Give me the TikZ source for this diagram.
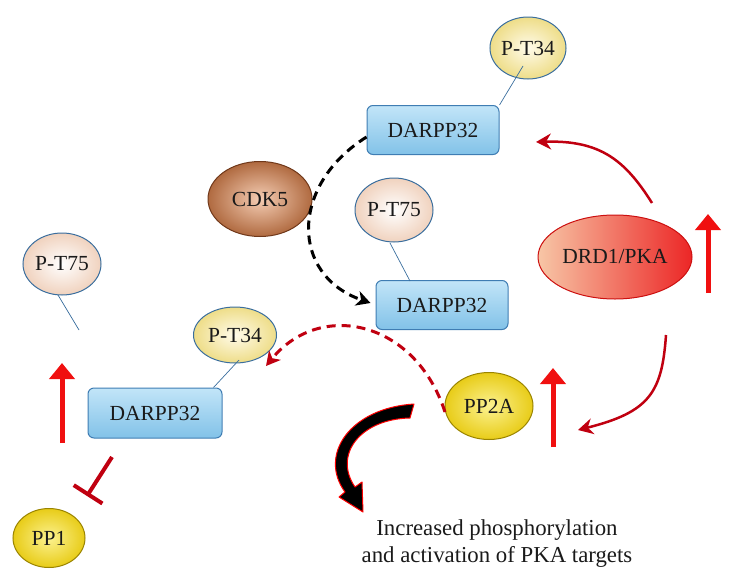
\documentclass[tikz,border=0pt]{standalone}
\usepackage{fontspec}
\setmainfont{Liberation Serif}
\usetikzlibrary{shapes.geometric,arrows.meta,calc}
\definecolor{boxtop}{HTML}{C2E5F8}
\definecolor{boxbot}{HTML}{82C2E8}
\definecolor{boxline}{HTML}{3F7DB3}
\definecolor{pline}{HTML}{3A6E9E}
\definecolor{ylin}{HTML}{FFFBEA}
\definecolor{yout}{HTML}{EEDD88}
\definecolor{pin}{HTML}{FFFFFF}
\definecolor{pout}{HTML}{F0D2BE}
\definecolor{cdkin}{HTML}{F4CDB4}
\definecolor{cdkout}{HTML}{B06A40}
\definecolor{cdkline}{HTML}{70381A}
\definecolor{ppin}{HTML}{FCF290}
\definecolor{ppout}{HTML}{E8CC18}
\definecolor{ppline}{HTML}{9A8400}
\definecolor{drdl}{HTML}{F7C6A6}
\definecolor{drdr}{HTML}{EC2626}
\definecolor{drdline}{HTML}{CC1010}
\definecolor{darkred}{HTML}{C00010}
\definecolor{brightred}{HTML}{F01010}
\definecolor{txt}{HTML}{1A1A1A}
\tikzset{
  lbl/.style={font=\fontsize{21.5}{25}\selectfont, text=txt},
  ovl/.style={ellipse, inner sep=0pt, lbl, line width=1pt},
  ptyel/.style={ovl, draw=pline, inner color=ylin, outer color=yout},
  ptpch/.style={ovl, draw=pline, inner color=pin, outer color=pout},
  ppyel/.style={ovl, draw=ppline, inner color=ppin, outer color=ppout},
  darpp/.style={rectangle, rounded corners=6pt, draw=boxline, line width=1pt, top color=boxtop, bottom color=boxbot, minimum width=132pt, minimum height=49pt, lbl},
  link/.style={draw=pline, line width=0.7pt},
  upred/.style={draw=brightred, line width=5pt, -{Triangle[width=25pt,length=16pt]}},
  curvred/.style={draw=darkred, line width=2.5pt, -{Stealth[length=15pt,width=16pt,inset=5pt]}},
  dashblk/.style={draw=black, line width=3pt, dash pattern=on 9pt off 6pt, -{Stealth[length=14pt,width=15pt,inset=4pt]}},
  dashred/.style={draw=darkred, line width=3pt, dash pattern=on 9pt off 6pt, -{Stealth[length=14pt,width=15pt,inset=4pt]}},
  inhib/.style={draw=darkred, line width=4pt, -{Bar[width=34pt]}}
}
\begin{document}
\begin{tikzpicture}[x=1pt,y=-1pt]
\useasboundingbox (0,0) rectangle (736,584);
% nodes
\node[ptyel, minimum width=71pt, minimum height=62pt] (pt34a) at (528,48) {P-T34};
\node[darpp] (dA) at (433,130) {DARPP32};
\node[ovl, draw=cdkline, inner color=cdkin, outer color=cdkout, minimum width=104pt, minimum height=75pt] (cdk5) at (260,199) {CDK5};
\node[ptpch, minimum width=78pt, minimum height=64pt] (pt75b) at (394,210) {P-T75};
\node[darpp] (dB) at (442,305) {DARPP32};
\node[ovl, draw=drdline, left color=drdl, right color=drdr, minimum width=154pt, minimum height=84pt] (drd1) at (615,257) {DRD1/PKA};
\node[ppyel, minimum width=88pt, minimum height=67pt] (pp2a) at (489,406) {PP2A};
\node[ptyel, minimum width=83pt, minimum height=56pt] (pt34c) at (235,335) {P-T34};
\node[darpp, minimum width=134pt, minimum height=50pt] (dC) at (155,413) {DARPP32};
\node[ptpch, minimum width=78pt, minimum height=62pt] (pt75c) at (62,264) {P-T75};
\node[ppyel, minimum width=72pt, minimum height=59pt] (pp1) at (49,538) {PP1};
\node[lbl, align=center, inner sep=0pt, font=\fontsize{22.8}{27}\selectfont] (txt) at (497,544) {Increased phosphorylation\\and activation of PKA targets};
% phospho links
\coordinate (l1) at (523,66);
\draw[link] (l1) -- (dA.north east);
\coordinate (l2) at (390,243);
\coordinate (l2b) at (410,281);
\draw[link] (l2) -- (l2b);
\coordinate (l3) at (239,360);
\draw[link] (l3) -- ([xshift=-9pt]dC.north east);
\coordinate (l4) at (58,295);
\coordinate (l4e) at (79,330);
\draw[link] (l4) -- (l4e);
% dashed arrows
\draw[dashblk] ([yshift=-7pt]dA.west) .. controls (290,185) and (290,275) .. ([xshift=-5pt,yshift=2pt]dB.west);
\coordinate (r0) at (445,412);
\coordinate (r1) at (266,366);
\draw[dashred] (r0) .. controls (415,320) and (320,300) .. (r1);
% red curved arrows
\coordinate (c0) at (652,203);
\coordinate (c1) at (536,142);
\draw[curvred] (c0) .. controls (625,160) and (600,140) .. (c1);
\coordinate (c2) at (666,335);
\coordinate (c3) at (578,430);
\draw[curvred] (c2) .. controls (662,392) and (650,412) .. (c3);
% up arrows
\coordinate (u1a) at (708,293); \coordinate (u1b) at (708,214);
\draw[upred] (u1a) -- (u1b);
\coordinate (u2a) at (553,447); \coordinate (u2b) at (553,368);
\draw[upred] (u2a) -- (u2b);
\coordinate (u3a) at (62,443); \coordinate (u3b) at (62,363);
\draw[upred] (u3a) -- (u3b);
% inhibition
\coordinate (i0) at (112,457);
\coordinate (i1) at (87,496);
\draw[inhib] (i0) -- (i1);
% big curved arrow
\filldraw[fill=black, draw=red, line width=1pt, line join=round]
  (414,404) .. controls (350,408) and (318,455) .. (345,492)
  -- (339,497) -- (363,512) -- (362,482) -- (355,487)
  .. controls (333,455) and (360,419) .. (410,418) -- cycle;
\end{tikzpicture}
\end{document}
